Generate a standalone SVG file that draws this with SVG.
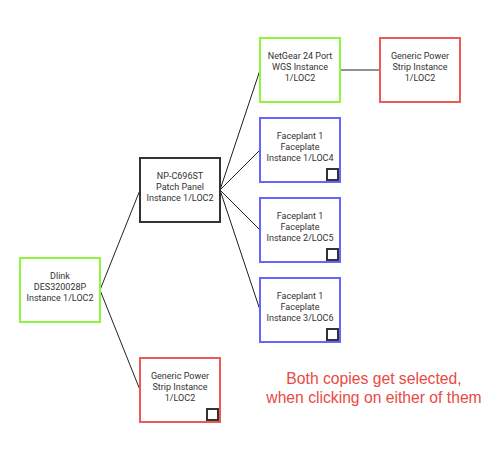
<svg xmlns="http://www.w3.org/2000/svg" width="499" height="457" viewBox="0 0 499 457">
<style>
.box{fill:#fff;stroke-width:2}
.g{stroke:#8ef53c}
.r{stroke:#ec5a55}
.b{stroke:#6666ff}
.k{stroke:#333}
.t{font-family:Roboto,"Liberation Sans",sans-serif;font-size:9px;fill:#333;text-anchor:middle}
.sq{fill:#fff;stroke:#333;stroke-width:2}
.c{stroke:#222;stroke-width:1;fill:none}
.note{font-family:"Liberation Sans",Arial,sans-serif;font-size:15.7px;fill:#e84a45;text-anchor:middle}
</style>
<rect width="499" height="457" fill="#fff"/>
<g id="connectors">
<line class="c" x1="100" y1="290" x2="140" y2="190"/>
<line class="c" x1="100" y1="290" x2="140" y2="390"/>
<line class="c" x1="220" y1="190" x2="260" y2="70"/>
<line class="c" x1="220" y1="190" x2="260" y2="150"/>
<line class="c" x1="220" y1="190" x2="260" y2="230"/>
<line class="c" x1="220" y1="190" x2="260" y2="310"/>
<line class="c" x1="340" y1="70" x2="380" y2="70"/>
</g>
<g id="dlink">
<rect class="box g" x="20" y="258" width="80" height="64"/>
<text class="t" x="60" y="279">Dlink</text>
<text class="t" x="60" y="290">DES320028P</text>
<text class="t" x="60" y="301">Instance 1/LOC2</text>
</g>
<g id="patchpanel">
<rect class="box k" x="140" y="158" width="80" height="64"/>
<text class="t" x="180" y="179">NP-C696ST</text>
<text class="t" x="180" y="190">Patch Panel</text>
<text class="t" x="180" y="201">Instance 1/LOC2</text>
</g>
<g id="netgear">
<rect class="box g" x="260" y="38" width="80" height="64"/>
<text class="t" x="300" y="59">NetGear 24 Port</text>
<text class="t" x="300" y="70">WGS Instance</text>
<text class="t" x="300" y="81">1/LOC2</text>
</g>
<g id="power-top">
<rect class="box r" x="380" y="38" width="80" height="64"/>
<text class="t" x="420" y="59">Generic Power</text>
<text class="t" x="420" y="70">Strip Instance</text>
<text class="t" x="420" y="81">1/LOC2</text>
</g>
<g id="faceplate1">
<rect class="box b" x="260" y="118" width="80" height="64"/>
<text class="t" x="300" y="139">Faceplant 1</text>
<text class="t" x="300" y="150">Faceplate</text>
<text class="t" x="300" y="161">Instance 1/LOC4</text>
<rect class="sq" x="327" y="169" width="11" height="11"/>
</g>
<g id="faceplate2">
<rect class="box b" x="260" y="198" width="80" height="64"/>
<text class="t" x="300" y="219">Faceplant 1</text>
<text class="t" x="300" y="230">Faceplate</text>
<text class="t" x="300" y="241">Instance 2/LOC5</text>
<rect class="sq" x="327" y="249" width="11" height="11"/>
</g>
<g id="faceplate3">
<rect class="box b" x="260" y="278" width="80" height="64"/>
<text class="t" x="300" y="299">Faceplant 1</text>
<text class="t" x="300" y="310">Faceplate</text>
<text class="t" x="300" y="321">Instance 3/LOC6</text>
<rect class="sq" x="327" y="329" width="11" height="11"/>
</g>
<g id="power-bottom">
<rect class="box r" x="140" y="358" width="80" height="64"/>
<text class="t" x="180" y="379">Generic Power</text>
<text class="t" x="180" y="390">Strip Instance</text>
<text class="t" x="180" y="401">1/LOC2</text>
<rect class="sq" x="207" y="409" width="11" height="11"/>
</g>
<g id="note">
<text class="note" x="374" y="384">Both copies get selected,</text>
<text class="note" x="374" y="403">when clicking on either of them</text>
</g>
</svg>
